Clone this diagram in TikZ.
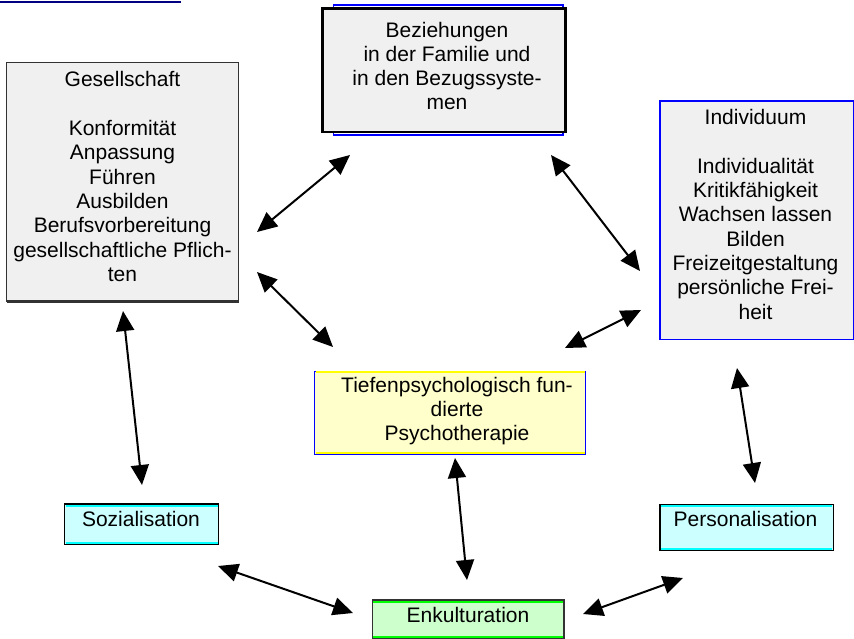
\documentclass[tikz,border=0pt]{standalone}
\usepackage{fontspec}
\setmainfont{Liberation Sans}
\usetikzlibrary{arrows.meta}
\definecolor{boxgray}{RGB}{240,240,240}
\definecolor{edgegray}{RGB}{50,50,50}
\definecolor{navyline}{RGB}{0,0,128}
\definecolor{lightyellow}{RGB}{255,255,204}
\definecolor{lightcyan}{RGB}{204,255,255}
\definecolor{lightgreen}{RGB}{204,255,204}
\definecolor{pureblue}{RGB}{0,0,255}
\definecolor{pureyellow}{RGB}{255,255,0}
\definecolor{purecyan}{RGB}{0,255,255}
\definecolor{puregreen}{RGB}{0,255,0}
\tikzset{
  boxbase/.style={rectangle, inner sep=0pt, outer sep=0pt},
  graybox/.style={boxbase, fill=boxgray, draw=edgegray, line width=1.4pt},
  bezbox/.style={boxbase, fill=boxgray, draw=black, line width=2.6pt},
  bluebox/.style={boxbase, draw=pureblue, line width=1.8pt},
  indbox/.style={boxbase, fill=boxgray, draw=pureblue, line width=1.5pt},
  tiefbox/.style={boxbase, fill=lightyellow, draw=pureblue, line width=1.5pt},
  cyanbox/.style={boxbase, fill=lightcyan, draw=black, line width=1.5pt},
  greenbox/.style={boxbase, fill=lightgreen, draw=black!80, line width=1.4pt},
  txt/.style={inner sep=0pt, outer sep=0pt, align=center, font=\fontsize{21}{24.3}\selectfont},
  innerline/.style={line width=2pt},
  dbl/.style={{Triangle[length=20pt,width=18pt]}-{Triangle[length=20pt,width=18pt]}, line width=2pt, black},
}
\begin{document}
\begin{tikzpicture}[x=1pt,y=-1pt]
\useasboundingbox (0,0) rectangle (854,638);

% top-left line
\coordinate (tl1) at (0,2);
\coordinate (tl2) at (181,2);
\draw[navyline, line width=2.6pt] (tl1) -- (tl2);

% Gesellschaft
\node[graybox, minimum width=231.8pt, minimum height=239pt] (ges) at (122.6,182) {};
\draw[edgegray, line width=2.6pt] (ges.south west) -- (ges.south east);
\node[txt] (gesT) at (122.5,176.6) {Gesellschaft\\\mbox{}\\Konformität\\Anpassung\\Führen\\Ausbilden\\Berufsvorbereitung\\gesellschaftliche Pflich-\\ten};

% Beziehungen
\node[bluebox, minimum width=229.5pt, minimum height=130pt] (bezB) at (448.3,70) {};
\node[bezbox, minimum width=243.4pt, minimum height=123.3pt] (bez) at (444,70.3) {};
\node[txt] (bezT) at (447,66) {Beziehungen\\in der Familie und\\in den Bezugssyste-\\men};

% Individuum
\node[indbox, minimum width=193.3pt, minimum height=238.7pt] (ind) at (756.7,220.3) {};
\node[txt] (indT) at (755.5,214.4) {Individuum\\\mbox{}\\Individualität\\Kritikfähigkeit\\Wachsen lassen\\Bilden\\Freizeitgestaltung\\persönliche Frei-\\heit};

% Tiefenpsychologisch
\node[tiefbox, minimum width=271pt, minimum height=83pt] (tief) at (450,413) {};
\draw[pureyellow, innerline] ([xshift=1pt]tief.north west) -- ([xshift=-1pt]tief.north east);
\draw[pureyellow, innerline] ([xshift=1pt,yshift=2pt]tief.south west) -- ([xshift=-1pt,yshift=2pt]tief.south east);
\node[txt] (tiefT) at (457,411) {Tiefenpsychologisch fun-\\dierte\\Psychotherapie};

% Sozialisation
\node[cyanbox, minimum width=153.8pt, minimum height=40.7pt] (soz) at (141.6,524.3) {};
\draw[purecyan, innerline] ([xshift=1pt,yshift=-1.8pt]soz.north west) -- ([xshift=-1pt,yshift=-1.8pt]soz.north east);
\draw[purecyan, innerline] ([xshift=1pt,yshift=1.8pt]soz.south west) -- ([xshift=-1pt,yshift=1.8pt]soz.south east);
\node[txt] (sozT) at (141,519) {Sozialisation};

% Personalisation
\node[cyanbox, minimum width=173.5pt, minimum height=46pt] (pers) at (746.7,527.5) {};
\draw[purecyan, innerline] ([xshift=1pt,yshift=-1.8pt]pers.north west) -- ([xshift=-1pt,yshift=-1.8pt]pers.north east);
\draw[purecyan, innerline] ([xshift=1pt,yshift=1.8pt]pers.south west) -- ([xshift=-1pt,yshift=1.8pt]pers.south east);
\node[txt] (persT) at (745.5,519) {Personalisation};

% Enkulturation
\node[greenbox, minimum width=191.9pt, minimum height=39pt] (enk) at (468.2,619.5) {};
\draw[puregreen, innerline] ([xshift=1pt,yshift=-2pt]enk.north west) -- ([xshift=-1pt,yshift=-2pt]enk.north east);
\draw[puregreen, innerline] ([xshift=1pt,yshift=2.5pt]enk.south west) -- ([xshift=-1pt,yshift=2.5pt]enk.south east);
\node[txt] (enkT) at (468,615) {Enkulturation};

% arrow end points
\coordinate (a1s) at (257,232);  \coordinate (a1e) at (350,155);
\coordinate (a2s) at (257,272);  \coordinate (a2e) at (333,347);
\coordinate (a3s) at (551,155);  \coordinate (a3e) at (640,271);
\coordinate (a4s) at (565,348);  \coordinate (a4e) at (641,310);
\coordinate (a5s) at (123,311);  \coordinate (a5e) at (142,485);
\coordinate (a6s) at (737,368);  \coordinate (a6e) at (755,483);
\coordinate (a7s) at (455,458);  \coordinate (a7e) at (467,580);
\coordinate (a8s) at (218,566);  \coordinate (a8e) at (353,613);
\coordinate (a9s) at (583,614);  \coordinate (a9e) at (683,578);

\draw[dbl] (a1s) -- (a1e);
\draw[dbl] (a2s) -- (a2e);
\draw[dbl] (a3s) -- (a3e);
\draw[dbl] (a4s) -- (a4e);
\draw[dbl] (a5s) -- (a5e);
\draw[dbl] (a6s) -- (a6e);
\draw[dbl] (a7s) -- (a7e);
\draw[dbl] (a8s) -- (a8e);
\draw[dbl] (a9s) -- (a9e);
\end{tikzpicture}
\end{document}
